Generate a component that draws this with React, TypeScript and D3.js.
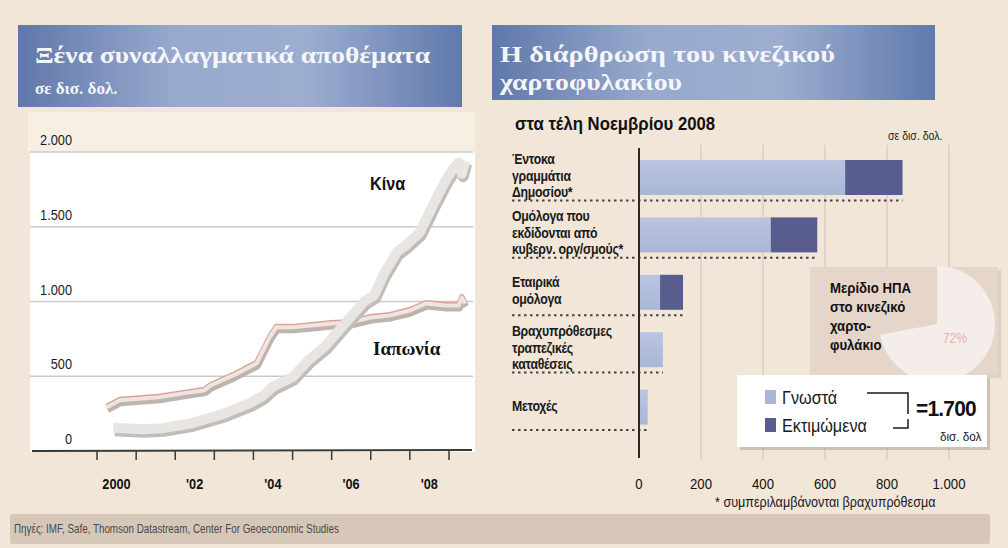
import React from 'react';
import * as d3 from 'd3';

// left chart: foreign reserves, bn $
const chinaDates = ['2000-06', '2001-03', '2001-09', '2002-06', '2003-04', '2003-12', '2004-04', '2004-07', '2005-01', '2005-06', '2005-11', '2006-03', '2006-07', '2006-11', '2007-02', '2007-05', '2007-09', '2007-12', '2008-04', '2008-08', '2008-12', '2009-02', '2009-04', '2009-05', '2009-06'];
const chinaValues = [155, 145, 152, 185, 250, 320, 370, 430, 495, 610, 700, 800, 900, 1000, 1040, 1180, 1330, 1380, 1460, 1640, 1810, 1880, 1930, 1855, 1940];

const japanDates = ['2000-04', '2000-08', '2001-08', '2002-04', '2002-10', '2002-12', '2003-07', '2004-02', '2004-06', '2004-08', '2005-01', '2005-07', '2006-01', '2006-07', '2007-01', '2007-07', '2008-01', '2008-06', '2008-12', '2009-04', '2009-05', '2009-06'];
const japanValues = [293, 340, 360, 387, 407, 440, 507, 587, 760, 827, 827, 840, 853, 860, 893, 907, 940, 987, 973, 973, 1027, 987];

const yTicks = [0, 500, 1000, 1500, 2000];
const yTickLabels = ['0', '500', '1.000', '1.500', '2.000'];
const yearTicks = [2000, 2001, 2002, 2003, 2004, 2005, 2006, 2007, 2008, 2009];
const yearLabelYears = [2000, 2002, 2004, 2006, 2008];
const yearLabels = ['2000', "'02", "'04", "'06", "'08"];

// right chart: Chinese portfolio, end Nov 2008
const categories = [
  ['Έντοκα', 'γραμμάτια', 'Δημοσίου*'],
  ['Ομόλογα που', 'εκδίδονται από', 'κυβερν. οργ/σμούς*'],
  ['Εταιρικά', 'ομόλογα'],
  ['Βραχυπρόθεσμες', 'τραπεζικές', 'καταθέσεις'],
  ['Μετοχές'],
];
const knownValues = [665, 425, 68, 77, 28];
const estimatedValues = [185, 150, 74, 0, 0];
const barTicks = [0, 200, 400, 600, 800, 1000];
const barTickLabels = ['0', '200', '400', '600', '800', '1.000'];
const usShare = [72, 28];

const SANS = "'Liberation Sans', Arial, sans-serif";
const SERIF = "'Liberation Serif', 'DejaVu Serif', serif";

const KNOWN = '#a9b6d6';
const EST = '#585d8d';

// narrow text: sans squeezed horizontally
function Cond(props: any) {
  const { x, y, sx = 0.88, children, ...rest } = props;
  return (
    <text transform={`translate(${x},${y}) scale(${sx},1)`} fontFamily={SANS} {...rest}>
      {children}
    </text>
  );
}

export default function App() {
  const parse = d3.timeParse('%Y-%m');

  const x = d3.scaleTime()
    .domain([new Date(2000, 0, 1), new Date(2009, 0, 1)])
    .range([97, 449]);
  const y = d3.scaleLinear().domain([0, 2000]).range([451, 152]);

  const line = d3.line<[Date, number]>()
    .x(d => x(d[0]))
    .y(d => y(d[1]));

  const china = chinaDates.map((d, i) => [parse(d) as Date, chinaValues[i]] as [Date, number]);
  const japan = japanDates.map((d, i) => [parse(d) as Date, japanValues[i]] as [Date, number]);

  const bx = d3.scaleLinear().domain([0, 1000]).range([639, 949]);
  const band = d3.scaleBand<number>()
    .domain(categories.map((_, i) => i))
    .range([143, 430]);

  const pie = d3.pie<number>().sort(null)(usShare);
  const arc = d3.arc<d3.PieArcDatum<number>>().innerRadius(0).outerRadius(58);

  return (
    <svg width={1008} height={548} style={{ position: 'absolute', left: 0, top: 0 }}>
      <defs>
        <linearGradient id="titleGrad" x1="0" x2="1" y1="0" y2="0">
          <stop offset="0" stopColor="#6078aa" />
          <stop offset="0.35" stopColor="#97a9cd" />
          <stop offset="0.65" stopColor="#9cadd0" />
          <stop offset="1" stopColor="#617aac" />
        </linearGradient>
        <linearGradient id="knownGrad" x1="0" x2="0" y1="0" y2="1">
          <stop offset="0" stopColor="#b9c5e0" />
          <stop offset="1" stopColor={KNOWN} />
        </linearGradient>
      </defs>

      <rect x={0} y={0} width={1008} height={548} fill="#f2e6d8" />

      {/* left panel */}
      <rect x={18} y={25} width={444} height={82} fill="url(#titleGrad)" />
      <text x={35} y={63} fontFamily={SERIF} fontWeight="bold" fontSize={23} fill="#f5f6fa" textLength={395} lengthAdjust="spacingAndGlyphs">
        Ξένα συναλλαγματικά αποθέματα
      </text>
      <text x={35} y={94} fontFamily={SERIF} fontWeight="bold" fontSize={17} fill="#f5f6fa">σε δισ. δολ.</text>

      <rect x={28} y={112} width={447} height={40} fill="#f8efe3" />
      <rect x={30} y={152} width={445} height={300} fill="#ffffff" />

      {yTicks.map((t, i) => (
        <g key={t}>
          {t > 0 && <line x1={30} x2={473} y1={y(t)} y2={y(t)} stroke="#c9c9cf" strokeWidth={1.5} />}
          <Cond x={72} y={y(t) - 7} sx={0.85} textAnchor="end" fontSize={15} fill="#1a1a1a">
            {yTickLabels[i]}
          </Cond>
        </g>
      ))}

      {/* Japan */}
      <path d={line(japan) ?? ''} transform="translate(1,3)" fill="none" stroke="#bdb4ae" strokeWidth={6} strokeLinejoin="round" />
      <path d={line(japan) ?? ''} transform="translate(0,-1)" fill="none" stroke="#d9a198" strokeWidth={5} strokeLinejoin="round" />
      <path d={line(japan) ?? ''} fill="none" stroke="#f0e4e0" strokeWidth={4} strokeLinejoin="round" />

      {/* China */}
      <path d={line(china) ?? ''} transform="translate(1.5,3)" fill="none" stroke="#c3bdb8" strokeWidth={11} strokeLinejoin="round" />
      <path d={line(china) ?? ''} fill="none" stroke="#e9e5e2" strokeWidth={10} strokeLinejoin="round" />

      <Cond x={370} y={190} sx={0.9} fontWeight="bold" fontSize={18} fill="#111">Κίνα</Cond>
      <text x={373} y={355} fontFamily={SERIF} fontWeight="bold" fontSize={19} fill="#111">Ιαπωνία</text>

      <line x1={32} x2={472} y1={451} y2={450} stroke="#3a3a3a" strokeWidth={2} />
      {yearTicks.map(t => (
        <line key={t} x1={x(new Date(t, 0, 1))} x2={x(new Date(t, 0, 1))} y1={451} y2={460} stroke="#3a3a3a" strokeWidth={1.5} />
      ))}
      {yearLabelYears.map((t, i) => (
        <Cond key={t} x={x(new Date(t, 6, 1))} y={489} sx={0.85} textAnchor="middle" fontWeight="bold" fontSize={15} fill="#111">
          {yearLabels[i]}
        </Cond>
      ))}

      {/* right panel */}
      <rect x={492} y={25} width={443} height={75} fill="url(#titleGrad)" />
      <text x={500} y={62} fontFamily={SERIF} fontWeight="bold" fontSize={23} fill="#f5f6fa" textLength={335} lengthAdjust="spacingAndGlyphs">
        Η διάρθρωση του κινεζικού
      </text>
      <text x={500} y={90} fontFamily={SERIF} fontWeight="bold" fontSize={23} fill="#f5f6fa" textLength={182} lengthAdjust="spacingAndGlyphs">
        χαρτοφυλακίου
      </text>
      <Cond x={515} y={130} sx={0.93} fontWeight="bold" fontSize={18} fill="#111">στα τέλη Νοεμβρίου 2008</Cond>
      <Cond x={888} y={140} sx={0.88} fontSize={12} fill="#222">σε δισ. δολ.</Cond>

      {barTicks.slice(1).map(t => (
        <line key={t} x1={bx(t)} x2={bx(t)} y1={145} y2={460} stroke="#d8cfc8" strokeWidth={1.5} />
      ))}

      {categories.map((lines, i) => {
        const top = band(i) as number;
        const step = band.step();
        const total = knownValues[i] + estimatedValues[i];
        const first = top + 38 - (lines.length - 1) * 8.5;
        return (
          <g key={i}>
            <rect x={bx(0)} y={top + 17} width={bx(knownValues[i]) - bx(0)} height={35} fill="url(#knownGrad)" />
            {estimatedValues[i] > 0 && (
              <rect x={bx(knownValues[i])} y={top + 17} width={bx(total) - bx(knownValues[i])} height={35} fill={EST} />
            )}
            <line x1={512} x2={bx(total)} y1={top + step} y2={top + step} stroke="#444" strokeWidth={2} strokeDasharray="2.5 3.5" />
            {lines.map((l, j) => (
              <Cond key={j} x={512} y={first + j * 16.5} sx={0.88} fontWeight="bold" fontSize={14} fill="#1a1a1a" letterSpacing={-0.3}>
                {l}
              </Cond>
            ))}
          </g>
        );
      })}

      <line x1={bx(0)} x2={bx(0)} y1={148} y2={458} stroke="#2a2a2a" strokeWidth={2} />
      {barTicks.map((t, i) => (
        <Cond key={t} x={bx(t)} y={489} sx={0.88} textAnchor="middle" fontSize={15} fill="#111">
          {barTickLabels[i]}
        </Cond>
      ))}
      <Cond x={715} y={507} sx={0.9} fontSize={14} fill="#1a1a1a">* συμπεριλαμβάνονται βραχυπρόθεσμα</Cond>

      {/* pie inset */}
      <rect x={813} y={270} width={188} height={108} fill="#b5a596" opacity={0.35} />
      <rect x={810} y={267} width={188} height={108} fill="#e6d6c9" />
      <g transform="translate(937,324)">
        <path d={arc(pie[0]) ?? ''} fill="#f4ede9" />
        <Cond x={18} y={19} textAnchor="middle" fontSize={14} fill="#e6b4b2">72%</Cond>
      </g>
      {['Μερίδιο ΗΠΑ', 'στο κινεζικό', 'χαρτο-', 'φυλάκιο'].map((l, j) => (
        <Cond key={j} x={830} y={293 + j * 19} sx={0.88} fontWeight="bold" fontSize={15} fill="#111">{l}</Cond>
      ))}

      {/* legend */}
      <rect x={740} y={378} width={250} height={72} fill="#a99a8d" opacity={0.5} />
      <rect x={737} y={375} width={250} height={72} fill="#ffffff" />
      <rect x={765} y={390} width={11} height={14} fill={KNOWN} />
      <Cond x={782} y={404} sx={0.9} fontSize={18} fill="#1a1a1a">Γνωστά</Cond>
      <rect x={765} y={418} width={11} height={14} fill={EST} />
      <Cond x={782} y={432} sx={0.9} fontSize={18} fill="#1a1a1a">Εκτιμώμενα</Cond>
      <path d="M867,393 H908 V414" fill="none" stroke="#1a1a1a" strokeWidth={1.5} />
      <path d="M893,428 H908 V419" fill="none" stroke="#1a1a1a" strokeWidth={1.5} />
      <Cond x={916} y={416} sx={0.95} fontWeight="bold" fontSize={22} fill="#111" letterSpacing={-0.8}>=1.700</Cond>
      <Cond x={940} y={441} sx={0.9} fontSize={13} fill="#1a1a1a">δισ. δολ</Cond>

      {/* source */}
      <rect x={10} y={514} width={980} height={30} rx={3} fill="#d6c7b9" />
      <Cond x={14} y={533} sx={0.82} fontSize={12} fill="#4a4a4a">
        Πηγές: IMF, Safe, Thomson Datastream, Center For Geoeconomic Studies
      </Cond>
    </svg>
  );
}
